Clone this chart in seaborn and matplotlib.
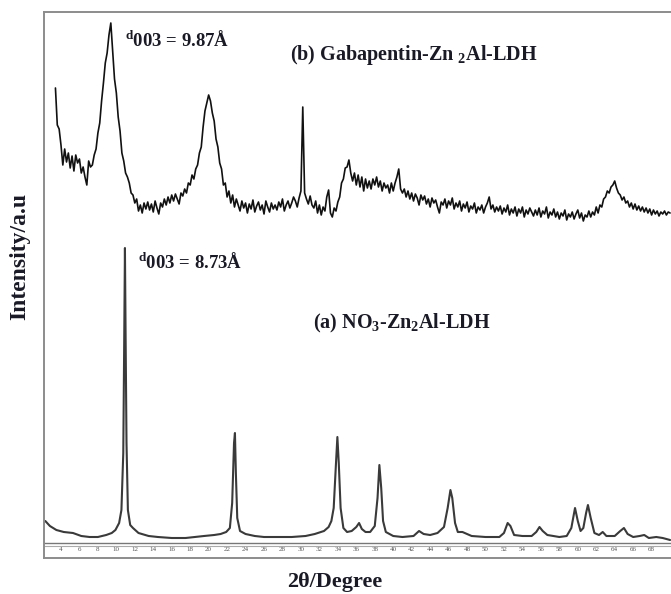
import numpy as np
import matplotlib
matplotlib.use('Agg')
import matplotlib.pyplot as plt
import seaborn as sns

# (a) NO3-Zn2Al-LDH (2theta, intensity a.u.)
a_two_theta = [2.3, 2.8, 3.5, 4.3, 5.3, 6.2, 7.1, 8.0, 8.9, 9.5,
               9.9, 10.3, 10.55, 10.75, 10.85, 10.93, 11.0, 11.1, 11.25, 11.5,
               11.8, 12.4, 13.5, 14.5, 16.0, 17.5, 18.5, 19.5, 20.6, 21.3,
               21.9, 22.3, 22.55, 22.75, 22.85, 22.95, 23.1, 23.4, 24.0, 25.0,
               26.0, 27.5, 29.0, 30.5, 31.5, 32.5, 33.0, 33.3, 33.55, 33.8,
               33.95, 34.1, 34.3, 34.6, 35.0, 35.5, 36.0, 36.3, 36.6, 37.0,
               37.5, 38.0, 38.3, 38.5, 38.7, 38.9, 39.2, 40.0, 41.0, 42.2,
               42.8, 43.3, 44.0, 44.8, 45.5, 45.9, 46.2, 46.4, 46.7, 47.0,
               47.5, 48.0, 48.5, 50.0, 51.5, 52.0, 52.4, 52.7, 53.1, 54.0,
               55.0, 55.5, 55.85, 56.2, 56.7, 58.0, 58.8, 59.3, 59.7, 60.0,
               60.3, 60.6, 60.9, 61.1, 61.4, 61.8, 62.3, 62.7, 63.1, 64.0,
               64.6, 65.0, 65.4, 66.0, 66.7, 67.2, 67.7, 68.5, 69.2, 70.0]
a_intensity = [22, 17, 13, 11, 10, 7, 6, 6, 8, 10,
               13, 20, 33, 90, 200, 295, 210, 100, 33, 18,
               15, 10, 7, 6, 5, 5, 6, 7, 8, 9,
               11, 15, 40, 100, 110, 70, 25, 12, 9, 7,
               6, 6, 6, 7, 9, 12, 16, 22, 35, 80,
               106, 80, 35, 15, 11, 12, 16, 20, 14, 11,
               11, 17, 45, 78, 55, 22, 11, 7, 6, 7,
               12, 9, 8, 10, 16, 35, 53, 45, 20, 11,
               11, 9, 7, 6, 6, 10, 20, 17, 8, 7,
               7, 11, 16, 12, 8, 6, 7, 15, 35, 22,
               12, 15, 30, 38, 25, 10, 8, 11, 7, 7,
               12, 15, 9, 6, 7, 8, 5, 6, 5, 3]

# (b) Gabapentin-Zn2Al-LDH, one reading every 0.2 deg from 3.4 to 70.0
b_intensity = [455, 418, 414, 398, 378, 394, 381, 390, 375, 387,
               372, 388, 380, 384, 370, 376, 366, 358, 382, 376,
               378, 388, 394, 410, 420, 442, 460, 480, 490, 508,
               520, 492, 464, 450, 426, 412, 390, 382, 370, 366,
               360, 350, 348, 340, 344, 332, 338, 330, 340, 334,
               341, 333, 339, 331, 342, 335, 329, 340, 336, 344,
               338, 346, 340, 348, 342, 349, 344, 339, 350, 347,
               354, 350, 360, 358, 368, 364, 374, 378, 390, 396,
               416, 432, 440, 448, 442, 430, 422, 404, 396, 380,
               374, 358, 360, 346, 352, 340, 348, 336, 344, 338,
               332, 342, 335, 340, 330, 339, 334, 343, 331, 337,
               341, 333, 338, 329, 342, 336, 331, 340, 334, 338,
               333, 341, 336, 344, 332, 338, 342, 335, 340, 346,
               342, 336, 345, 352, 436, 350, 344, 339, 347, 338,
               335, 342, 330, 338, 328, 336, 332, 346, 353, 330,
               326, 335, 332, 341, 346, 360, 364, 375, 376, 383,
               370, 362, 370, 358, 368, 356, 366, 352, 364, 355,
               362, 354, 364, 358, 366, 356, 362, 352, 360, 355,
               358, 350, 360, 352, 360, 366, 374, 354, 350, 354,
               346, 352, 344, 350, 342, 349, 345, 338, 348, 343,
               347, 339, 344, 336, 345, 340, 343, 336, 330, 341,
               338, 344, 335, 342, 338, 345, 334, 340, 336, 342,
               332, 339, 335, 341, 331, 337, 334, 340, 330, 336,
               333, 338, 330, 336, 340, 346, 334, 338, 331, 336,
               332, 337, 329, 335, 331, 338, 328, 334, 330, 336,
               327, 334, 330, 336, 326, 333, 329, 335, 331, 327,
               333, 328, 335, 326, 332, 329, 336, 325, 331, 328,
               334, 326, 331, 324, 330, 327, 333, 323, 329, 326,
               331, 324, 329, 333, 325, 330, 322, 328, 326, 332,
               326, 331, 328, 336, 330, 338, 336, 344, 346, 352,
               350, 356, 358, 362, 355, 350, 348, 343, 346, 340,
               342, 336, 340, 334, 339, 333, 337, 332, 336, 331,
               335, 330, 334, 328, 333, 329, 332, 327, 331, 329,
               332, 328, 331, 330]
b_two_theta = np.linspace(3.4, 70.0, len(b_intensity))

tick_degrees = list(range(4, 70, 2))

sns.set_style('white')
plt.rcParams['font.family'] = ['Liberation Serif', 'DejaVu Serif']
plt.rcParams['mathtext.fontset'] = 'custom'
plt.rcParams['mathtext.rm'] = 'Liberation Serif:bold'
plt.rcParams['mathtext.bf'] = 'Liberation Serif:bold'
plt.rcParams['mathtext.it'] = 'Liberation Serif:bold'

txt = '#1a1a26'

fig = plt.figure(figsize=(6.71, 5.94), dpi=100)
ax = fig.add_axes([44/671, 36/594, 627/671, 546/594])

sns.lineplot(x=b_two_theta, y=b_intensity, ax=ax, color='#111111', lw=1.2,
             estimator=None, sort=False)
sns.lineplot(x=a_two_theta, y=a_intensity, ax=ax, color='#3a3a3a', lw=1.5,
             estimator=None, sort=False)

ax.set_xlim(2.16, 70.1)
ax.set_ylim(-15, 531)

# double base line above the tick labels
ax.axhline(0, color='#777777', lw=1.0)
ax.axhline(-3, color='#aaaaaa', lw=0.8)

ax.set_xticks(tick_degrees)
ax.set_yticks([])
ax.tick_params(axis='x', direction='in', length=0, pad=-7.6,
               labelsize=5, labelcolor='#555555')

for s in ['left', 'top', 'bottom']:
    ax.spines[s].set_color('#8c8c8c')
    ax.spines[s].set_linewidth(1.4)
ax.spines['right'].set_visible(False)

ax.text(10.95, 503, r'$^{\mathbf{d}}$003 = 9.87Å', fontsize=13.5,
        fontweight='bold', va='center', color=txt)
ax.text(12.35, 281, r'$^{\mathbf{d}}$003 = 8.73Å', fontsize=13.5,
        fontweight='bold', va='center', color=txt)
ax.text(28.8, 488, r'(b) Gabapentin-Zn $_{\mathbf{2}}$Al-LDH', fontsize=14.5,
        fontweight='bold', va='center', color=txt)
ax.text(31.3, 220, r'(a) NO$_{\mathbf{3}}$-Zn$_{\mathbf{2}}$Al-LDH', fontsize=14.5,
        fontweight='bold', va='center', color=txt)

ax.set_xlabel('2θ/Degree', fontsize=16, fontweight='bold', color=txt)
ax.xaxis.set_label_coords(0.464, -0.025)
ax.set_ylabel('Intensity/a.u', fontsize=17, fontweight='bold', color=txt)
ax.yaxis.set_label_coords(-0.022, 0.553)

plt.savefig('out.png', dpi=100)
